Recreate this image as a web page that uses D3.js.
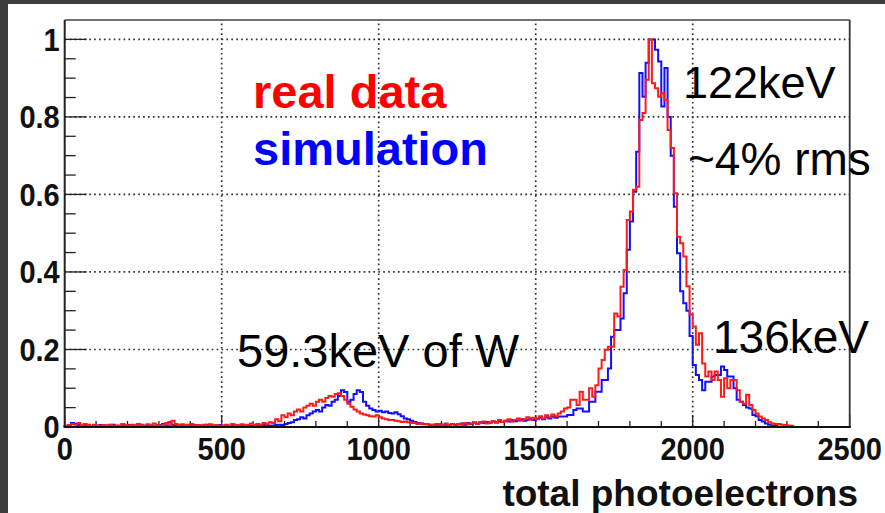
<!DOCTYPE html>
<html><head><meta charset="utf-8">
<script src="https://cdn.jsdelivr.net/npm/d3@7"></script>
<style>html,body{margin:0;padding:0;background:#fff;}svg{display:block;}</style>
</head><body>
<script>
// ---- data ----
const binWidth = 10;
const xTicks = [0, 500, 1000, 1500, 2000, 2500];
const xTickLabels = ["0", "500", "1000", "1500", "2000", "2500"];
const yTicks = [0, 0.2, 0.4, 0.6, 0.8, 1];
const yTickLabels = ["0", "0.2", "0.4", "0.6", "0.8", "1"];
const xTitle = "total photoelectrons";
const seriesNames = ["real data", "simulation"];
const annotations = ["122keV", "~4% rms", "136keV", "59.3keV of W"];

// real data (red), one value per 10-unit bin starting at 0
const redCounts = [
  0.003,0.005,0.008,0.006,0.01,0.004,0.008,0.005,0.003,0.006,
  0.004,0.002,0.005,0.003,0.006,0.002,0.004,0.003,0.008,0.005,
  0.003,0.006,0.004,0.008,0.005,0.002,0.007,0.004,0.009,0.005,
  0.003,0.006,0.01,0.004,0.016,0.008,0.005,0.007,0.004,0.006,
  0.008,0.003,0.005,0.002,0.006,0.004,0.007,0.003,0.005,0.002,
  0.004,0.006,0.003,0.008,0.005,0.004,0.007,0.005,0.006,0.009,
  0.005,0.008,0.006,0.01,0.007,
  0.012,0.01,0.02,0.015,0.03,0.025,0.035,0.03,0.04,0.045,
  0.04,0.05,0.055,0.06,0.055,0.065,0.07,0.065,0.075,0.08,
  0.078,0.085,0.087,0.08,0.07,0.06,0.052,0.045,0.04,0.035,
  0.032,0.03,0.028,0.027,0.03,0.025,0.022,0.02,0.018,0.018,
  0.016,0.015,0.013,0.014,0.012,0.01,0.01,0.008,0.009,0.007,
  0.008,
  0.006,0.005,0.008,0.004,0.006,0.009,0.005,0.007,0.004,0.008,
  0.006,0.01,0.007,0.009,0.012,0.008,0.01,0.014,0.009,0.012,
  0.015,0.011,0.018,0.013,0.016,0.02,0.014,0.018,0.022,0.017,
  0.02,0.025,0.019,0.024,0.02,0.028,0.022,0.03,0.025,0.032,
  0.028,
  0.035,0.04,0.048,0.05,0.07,0.07,0.057,0.091,0.07,0.07,
  0.1,0.078,0.108,0.151,0.173,0.199,0.207,0.207,0.293,0.285,
  0.362,0.405,0.534,0.556,0.612,0.62,0.792,0.81,0.896,1.0,
  0.887,0.874,0.852,0.861,0.844,0.766,0.72,0.603,0.491,0.474,
  0.44,0.363,0.29,
  0.259,0.212,0.242,0.164,0.13,0.143,0.121,0.143,0.121,0.078,
  0.126,0.1,0.121,0.121,0.095,0.065,0.06,0.083,0.057,0.044,
  0.035,0.027,0.022,0.018,0.012,0.009,0.008,0.008,0.006,0.005,
  0.004,0.003,0,0,0,0,0,0,0,0,
  0,0,0,0,0,0,0,0,0,0
];

// simulation (blue)
const blueCounts = [
  0.002,0.004,0.01,0.008,0.005,0.003,0.004,0.006,0.002,0.004,
  0.003,0.005,0.002,0.004,0.003,0.006,0.002,0.003,0.004,0.002,
  0.005,0.003,0.004,0.002,0.006,0.003,0.005,0.004,0.002,0.003,
  0.005,0.008,0.004,0.012,0.006,0.003,0.005,0.003,0.004,0.002,
  0.003,0.005,0.002,0.004,0.003,0.006,0.002,0.004,0.003,0.005,
  0.002,0.004,0.003,0.005,0.002,0.004,0.003,0.005,0.004,0.003,
  0.002,0.004,0.003,0.005,0.004,
  0.003,0.004,0.005,0.006,0.005,0.008,0.01,0.012,0.018,0.02,
  0.025,0.022,0.03,0.035,0.04,0.044,0.04,0.05,0.057,0.055,
  0.065,0.07,0.08,0.095,0.09,0.065,0.07,0.085,0.095,0.09,
  0.065,0.055,0.048,0.044,0.04,0.042,0.038,0.04,0.036,0.035,
  0.038,0.033,0.028,0.022,0.02,0.016,0.013,0.01,0.009,0.008,
  0.007,
  0.005,0.006,0.004,0.007,0.005,0.006,0.004,0.008,0.006,0.007,
  0.009,0.006,0.01,0.008,0.011,0.009,0.012,0.01,0.013,0.011,
  0.014,0.012,0.015,0.013,0.016,0.014,0.018,0.015,0.017,0.02,
  0.016,0.019,0.022,0.018,0.021,0.024,0.02,0.025,0.022,0.027,
  0.024,
  0.027,0.027,0.027,0.031,0.031,0.044,0.048,0.048,0.04,0.04,
  0.065,0.065,0.091,0.091,0.121,0.121,0.151,0.233,0.25,0.25,
  0.28,0.345,0.457,0.53,0.607,0.71,0.913,0.852,0.94,1.0,
  1.0,0.973,0.943,0.827,0.926,0.8,0.70,0.568,0.448,0.35,
  0.319,0.30,0.235,
  0.16,0.134,0.121,0.095,0.117,0.117,0.13,0.134,0.134,0.156,
  0.147,0.13,0.13,0.1,0.07,0.065,0.057,0.05,0.048,0.031,
  0.028,0.018,0.014,0.009,0.006,0.004,0.003,0,0,0,
  0,0,0,0,0,0,0,0,0,0,
  0,0,0,0,0,0,0,0,0,0
];

// ---- layout ----
const W = 885, H = 513;
const L = 64.7, R = 849.7, T = 20, B = 427;
const x = d3.scaleLinear().domain([0, 2500]).range([L, R]);
const y = d3.scaleLinear().domain([0, 1.05]).range([B, T]);

const svg = d3.select("body").append("svg").attr("width", W).attr("height", H);
svg.append("rect").attr("width", W).attr("height", H).attr("fill", "#fff");
// dark slide border
svg.append("rect").attr("x", 0).attr("y", 0).attr("width", W).attr("height", 4).attr("fill", "#3d3d3d");
svg.append("rect").attr("x", 0).attr("y", 0).attr("width", 8).attr("height", H).attr("fill", "#3d3d3d");

const font = "'Liberation Sans', Arial, Helvetica, sans-serif";

// grid
const grid = svg.append("g").attr("stroke", "#333").attr("stroke-width", 1.7).attr("stroke-dasharray", "1.7,3.2");
xTicks.filter(t => t > 0 && t < 2500).forEach(t => {
  grid.append("line").attr("x1", x(t)).attr("x2", x(t)).attr("y1", B).attr("y2", T);
});
yTicks.filter(t => t > 0).forEach(t => {
  grid.append("line").attr("x1", L).attr("x2", R).attr("y1", y(t)).attr("y2", y(t));
});

// minor ticks
const tk = svg.append("g").attr("stroke", "#222").attr("stroke-width", 1.3);
d3.range(0, 1.0001, 0.05).forEach(v => {
  const major = Math.abs(v * 5 - Math.round(v * 5)) < 1e-6;
  tk.append("line").attr("x1", L).attr("x2", L + (major ? 22 : 11)).attr("y1", y(v)).attr("y2", y(v));
});
d3.range(0, 2501, 100).forEach(v => {
  const major = v % 500 === 0;
  tk.append("line").attr("x1", x(v)).attr("x2", x(v)).attr("y1", B).attr("y2", B - (major ? 12 : 6));
});

// histograms
function stepPoints(counts) {
  const pts = [[0, 0]];
  counts.forEach((c, i) => pts.push([i * binWidth, c]));
  pts.push([counts.length * binWidth, counts[counts.length - 1]]);
  return pts;
}
const line = d3.line().x(d => x(d[0])).y(d => y(d[1])).curve(d3.curveStepAfter);
svg.append("path").attr("d", line(stepPoints(blueCounts))).attr("fill", "none")
  .attr("stroke", "#1010ff").attr("stroke-width", 2).attr("stroke-linejoin", "miter");
svg.append("path").attr("d", line(stepPoints(redCounts))).attr("fill", "none")
  .attr("stroke", "#ff1a1a").attr("stroke-width", 2).attr("stroke-linejoin", "miter");

// frame
svg.append("line").attr("x1", L).attr("x2", R).attr("y1", T).attr("y2", T).attr("stroke", "#444").attr("stroke-width", 1.5);
svg.append("line").attr("x1", R).attr("x2", R).attr("y1", T).attr("y2", B).attr("stroke", "#333").attr("stroke-width", 1.8);
svg.append("line").attr("x1", L).attr("x2", L).attr("y1", T).attr("y2", B + 1).attr("stroke", "#222").attr("stroke-width", 2);
svg.append("line").attr("x1", L - 1).attr("x2", R + 1).attr("y1", B).attr("y2", B).attr("stroke", "#111").attr("stroke-width", 2.2);

// tick labels
yTicks.forEach((t, i) => {
  svg.append("text").attr("transform", `translate(${L - 5},${y(t)}) scale(1,1.1)`)
    .attr("dy", "0.36em").attr("text-anchor", "end")
    .attr("font-family", font).attr("font-weight", "bold").attr("font-size", 29).attr("fill", "#111")
    .text(yTickLabels[i]);
});
xTicks.forEach((t, i) => {
  svg.append("text").attr("transform", `translate(${x(t)},${460}) scale(1,1.1)`)
    .attr("text-anchor", "middle")
    .attr("font-family", font).attr("font-weight", "bold").attr("font-size", 29).attr("fill", "#111")
    .text(xTickLabels[i]);
});

// axis title
svg.append("text").attr("x", 858).attr("y", 506).attr("text-anchor", "end")
  .attr("font-family", font).attr("font-weight", "bold").attr("font-size", 37).attr("fill", "#111")
  .text(xTitle);

// legend texts
svg.append("text").attr("x", 253).attr("y", 108).attr("font-family", font).attr("font-weight", "bold")
  .attr("font-size", 47).attr("fill", "#ff0000").text(seriesNames[0]);
svg.append("text").attr("x", 253).attr("y", 165).attr("font-family", font).attr("font-weight", "bold")
  .attr("font-size", 47).attr("fill", "#0000ff").text(seriesNames[1]);

// annotations
const ann = [[683, 98, 45], [688, 175, 46], [713, 353, 46], [237, 367, 47]];
ann.forEach((a, i) => {
  svg.append("text").attr("x", a[0]).attr("y", a[1]).attr("font-family", font)
    .attr("font-size", a[2]).attr("fill", "#000").text(annotations[i]);
});
</script>
</body></html>
